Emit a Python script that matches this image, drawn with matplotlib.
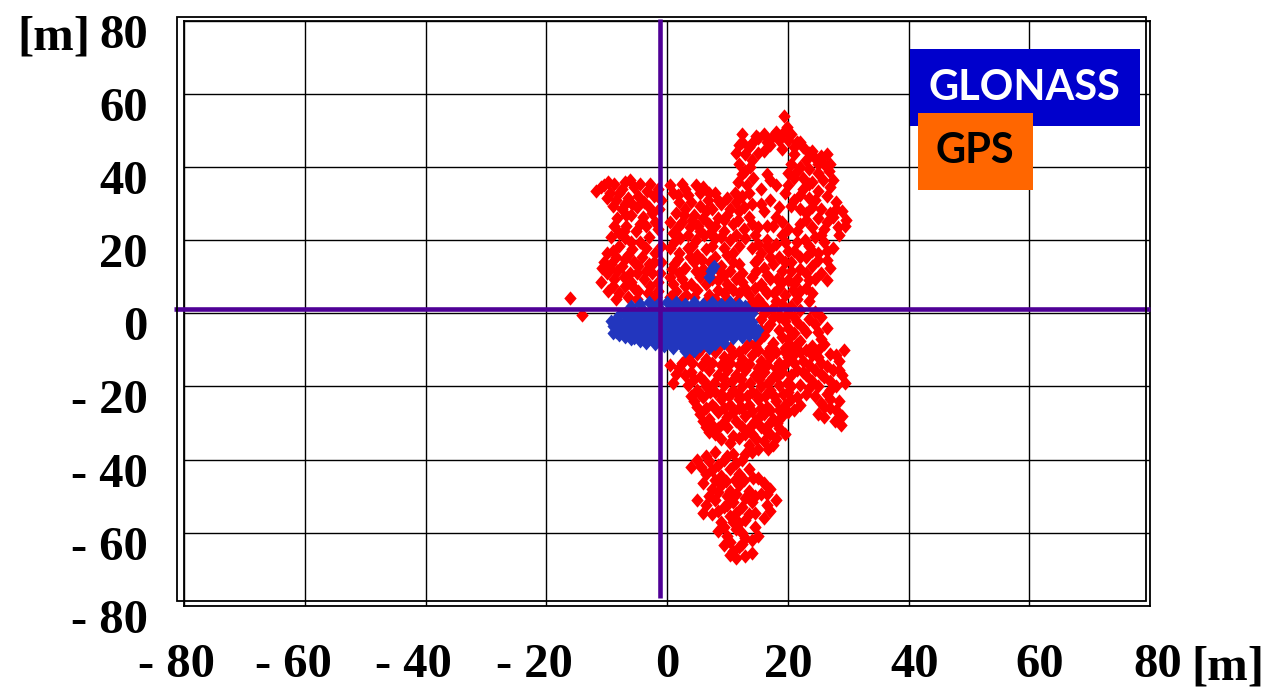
import matplotlib
matplotlib.use('Agg')
import matplotlib.pyplot as plt
from matplotlib.patches import Rectangle
from matplotlib.transforms import ScaledTranslation

# ---------------- data ----------------
tick_values = [-80, -60, -40, -20, 0, 20, 40, 60, 80]
tick_labels = ['- 80', '- 60', '- 40', '- 20', '0', '20', '40', '60', '80']
unit_label = '[m]'
legend_labels = ['GLONASS', 'GPS']

ref_x = -1.1   # vertical reference line
ref_y = 1.25   # horizontal reference line

gps_xy = [
    # upper-left cluster
    (-11.8, 33.5), (-10.5, 35), (-9.5, 33), (-8.8, 35.5), (-7.5, 34), (-6.2, 36.5), (-5.5, 34.5),
    (-4.8, 32), (-6.5, 31.5), (-8.5, 31), (-10, 31.5), (-3.3, 33.5), (-2.2, 32), (-1.5, 34), (-3.8, 30.5),
    (-7.5, 28.5), (-6, 27), (-8.2, 26), (-5, 29), (-4, 26.5), (-6.8, 24), (-5.2, 22.5), (-3.5, 24),
    (-8, 22), (-9.3, 21), (-7, 20.5), (-3, 21), (-2.5, 27.5), (-4.5, 19.5), (-1.5, 23), (-9, 17),
    (-10.5, 14), (-9.5, 12), (-8.5, 15.5), (-7.5, 13), (-6.5, 16), (-5.5, 14), (-4.2, 15.5), (-3, 13.5),
    (-2, 16.5), (-8.8, 9.5), (-7.2, 10), (-6, 8.5), (-5, 11), (-3.8, 9.5), (-2.5, 11), (-1.5, 8.5),
    (-9.8, 6), (-8, 5.5), (-6.5, 4.5), (-4.8, 6), (-3.2, 5.5), (-1.8, 4.5), (-7, 7.5), (-10, 11),
    (-16, 4.2), (-14, -0.5),
    (-11, 34.5), (-9.8, 36), (-8, 33), (-7, 36), (-4.5, 35.5), (-2.8, 35.5), (-9, 29.5), (-7, 30),
    (-5.8, 30), (-3, 29), (-6.8, 27), (-8.8, 24), (-7.2, 22.5), (-4.5, 24.5), (-2, 25), (-6, 19.5),
    (-3.5, 18), (-5.8, 17.5), (-8, 18.5), (-10, 16.5), (-9.2, 13.5), (-7, 15), (-4.8, 13), (-2.2, 14),
    (-8.2, 11.5), (-6.2, 11), (-3.5, 11.5), (-1.2, 11), (-9, 7.5), (-5.5, 7), (-2.8, 7.5), (-1.5, 6.2),
    (-8.5, 4), (-5, 4), (-11, 8.5), (-10.8, 12.5), (-1, 18.5), (-1, 14), (-1.3, 28.5), (-1, 31),
    # upper-middle
    (1, 33), (2.5, 35.5), (3.5, 32.5), (4.8, 35), (5.5, 33), (2, 30.5), (6.8, 31), (8, 33), (7.5, 28.5),
    (9, 30), (1.5, 27.5), (3, 28.5), (4.5, 27), (6, 26), (2.5, 25), (3.8, 23.5), (5.2, 24), (7, 24.5),
    (8.5, 26), (10, 27), (11, 24.5), (9.5, 22.5), (1, 22), (2.2, 20.5), (6.2, 21.5), (8, 20.5), (4.8, 20),
    (10.5, 20), (0.5, 18), (2, 16.5), (3.5, 18), (5, 16), (6.5, 17.5), (8, 15.5), (9.5, 18), (11, 16.5),
    (1.2, 13.5), (3, 12.5), (4.5, 14), (6, 12), (9, 13), (10.5, 11.5), (12, 13.5), (0.5, 10), (2.5, 9.5),
    (4, 8), (5.5, 10), (8.5, 9), (10, 8), (11.5, 9.5), (1.5, 6), (3.2, 5), (5, 6.5), (7, 5), (8.5, 6.5),
    (10, 4), (12, 5.5), (11.5, 3), (13, 7), (6.5, 3.5),
    (0.5, 35), (1.8, 32.5), (3, 34), (4, 30.5), (6, 34.5), (7, 33), (5.5, 29.5), (8.5, 31), (10, 31.5),
    (2.8, 27), (4.2, 25.5), (6.5, 28), (8, 24), (9.5, 25.5), (10.5, 28.5), (0.5, 25), (1.8, 23.5),
    (3.5, 21.5), (5.5, 22.5), (7.2, 22), (9, 21), (11.5, 21.5), (1.2, 19.5), (4.2, 18.5), (7.5, 18.5),
    (10, 16), (12, 18.5), (1.8, 15), (3.8, 15.5), (5.8, 14.5), (7.2, 14), (8.5, 12), (11, 14), (0.8, 12),
    (2, 11), (4.8, 11.5), (7, 11), (9.5, 10.5), (12.5, 11), (1, 8), (3, 7.5), (6.5, 8), (7.5, 9.5),
    (11, 6.5), (12.5, 8.5), (2.5, 4), (4.5, 4.5), (8, 4), (9.5, 5.5), (0.5, 4.5),
    # right arm column
    (11.5, 44), (12.5, 47), (13.5, 45.5), (12, 41), (13, 39), (14, 42), (11.8, 36), (13.2, 35),
    (12.5, 32), (14, 30), (12, 28), (13.5, 26.5), (12.8, 23), (14.5, 21.5), (11.5, 30.5), (14.2, 37),
    (12, 46), (13, 43.5), (12.5, 38), (13.8, 40), (11.3, 33), (13.5, 33), (12.8, 29), (11.8, 25.5),
    (14, 24.5), (13, 20.5), (12.5, 49), (14, 46.5),
    # top ridge
    (15, 48), (16.5, 47), (17.5, 48.5), (18.5, 47.5), (19.4, 54), (19.8, 51), (20.5, 49), (21.5, 47),
    (22.5, 45.5), (21, 43.5), (23.5, 44), (24.5, 42.5), (25.5, 43), (26, 41), (25, 38.5), (26.8, 39),
    (27.5, 36.5), (24, 36), (22, 40), (20.5, 41), (16, 44.5), (15, 44), (14.8, 48.5), (16.5, 38), (18, 35),
    (16, 49), (17, 46), (18, 49.5), (19, 49), (19, 45), (20, 47.5), (21, 45.5), (22, 47), (23, 42),
    (24, 44.5), (25, 41), (26.5, 43.5), (27, 41), (23.5, 39.5), (25.8, 36.5), (27, 34.5), (22.5, 37),
    (20, 38.5), (21.5, 39),
    # right part
    (21, 37), (22.5, 34), (21, 31), (23.5, 31.5), (22, 28.5), (24, 29), (26.5, 32), (28, 30.5), (29, 28),
    (27.5, 26.5), (29.7, 25.5), (28.3, 23.5), (26, 23), (27, 27.5), (25, 26), (23, 25.5), (21.5, 22.5),
    (22.8, 20), (24.5, 21), (26, 19.5), (27.5, 18), (25, 16.5), (23, 15.5), (21, 17), (24, 13), (22, 12),
    (25.5, 11), (21.5, 9.5), (23.5, 9), (20.5, 14), (26.5, 14.5),
    (20, 35), (23.5, 35.5), (25, 33.5), (22, 32.5), (24.5, 31), (20.5, 29.5), (23, 27.5), (25.5, 28.5),
    (28, 28.5), (26.5, 25), (24, 23.5), (22, 24.5), (28.5, 21.5), (29.5, 24), (25.5, 21.5), (23.5, 18.5),
    (21.5, 19.5), (26.5, 17), (24, 17), (22, 15.5), (20.5, 11.5), (23, 11), (25, 14.5), (24.5, 9.5),
    (27, 12.5), (26.5, 9),
    (15.5, 34), (17, 31), (18.5, 29), (16, 28), (19.5, 33), (15, 23.5), (17.5, 24), (19, 21.5), (16.5, 20),
    (18, 26.5), (17, 36.5), (15.5, 30), (19, 25), (20, 23), (16.5, 24),
    (14, 18), (15.5, 16.5), (17, 17.5), (18.5, 15.5), (20, 17), (14.5, 14), (16, 12.5), (17.5, 13.5),
    (19, 11.5), (20, 9), (14, 10), (15.5, 8), (17, 9.5), (18.5, 7), (13.5, 5), (15, 4), (16.5, 5.5),
    (18, 3.5), (19.5, 5), (20.5, 2), (14.5, 1.5), (16.5, 1), (22, 6), (23.5, 3.5), (22, 1), (24.5, 0.5),
    (21, -1),
    (15, 19), (16.5, 18.5), (18, 19), (19.5, 19.5), (15, 15), (17, 15.5), (19.5, 14), (14.8, 11.5),
    (16.5, 10.5), (18.2, 9.5), (14.5, 7), (16, 6.8), (17.8, 5.5), (19, 8.5), (20.8, 6.5), (14, 3),
    (15.8, 2.5), (17.5, 1.5), (19, 2.5), (20, 0), (21.5, 4), (23, 7), (24, 5.5), (21, 8), (18.5, -0.5),
    # right of the GLONASS cloud
    (15.5, -1.5), (17, -3), (18.5, -1), (20, -4), (21.5, -2.5), (23, -5), (24.5, -3), (16, -6), (17.5, -8),
    (19, -6.5), (20.5, -9), (22, -7.5), (24, -9), (25.5, -7), (14.5, -9), (18, -10.5), (26.5, -4),
    (16, 0), (17.5, -1), (19.5, -2), (21, -5.5), (22.5, -4), (23.5, -1.5), (25, -5), (16.5, -4),
    (18.5, -4.5), (15, -7.5), (20, -7), (21.5, -8.5), (23, -10), (17, -9.5), (19.5, -9.5), (25, -10),
    (26, -8.5), (15.5, -4.5), (13.5, -8), (25.5, -1),
    # lower dense part
    (3.5, -12), (5, -11), (6.5, -12.5), (8, -10.5), (9.5, -12), (11, -11), (12.5, -12.5), (14, -11.5),
    (15.5, -13), (17, -12), (18.5, -13.5), (20, -12), (7, -9.5), (10.5, -9.5), (13, -9.5), (0.5, -14),
    (1.5, -16.5), (2.5, -13.5),
    (4, -10), (5.8, -9.5), (8.8, -9), (12, -10.5), (15, -10), (16.5, -10.8), (19.5, -10.5), (4.2, -13.5),
    (5.8, -14), (7.5, -13.5), (9, -14), (10.5, -13.5), (12, -14.2), (13.5, -13.8), (15, -15), (16.5, -14),
    (18, -15), (19.5, -13.8), (2, -15), (3, -17), (1, -19),
    (4, -16), (5.5, -17.5), (7, -15.5), (8.5, -17), (10, -15.5), (11.5, -17), (13, -15.5), (14.5, -17),
    (16, -16), (17.5, -17.5), (19, -16), (20.5, -17), (3.5, -19.5), (5, -21), (6.5, -20), (8, -21.5),
    (9.5, -19.5), (11, -21), (12.5, -20), (14, -21.5), (15.5, -20), (17, -21), (18.5, -19.5), (20, -21.5),
    (4.5, -18), (6.2, -18.5), (7.8, -19), (9.2, -17.8), (10.8, -18.5), (12.2, -18), (13.8, -19),
    (15.2, -18), (16.8, -19), (18.2, -17.5), (19.8, -19), (4, -22.5), (5.8, -22.5), (7.2, -21.5), (9, -22),
    (10.2, -22.5), (11.8, -22), (13.2, -22.5), (14.8, -22), (16.2, -22.5), (17.8, -22.5), (19.2, -22.2),
    (4.5, -24), (6, -23), (7.5, -25), (9, -23.5), (10.5, -25), (12, -23.5), (13.5, -25), (15, -23.5),
    (16.5, -25.5), (18, -24), (19.5, -25), (5.5, -27.5), (7, -29), (8.5, -27), (10, -28.5), (13, -28),
    (14.5, -29.5), (16, -27.5), (17.5, -29), (19, -28), (6.5, -31), (8, -33),
    (5, -25.5), (6.5, -26), (8, -26), (9.5, -26), (11, -27), (12.5, -26), (14, -26.8), (15.5, -26),
    (17, -26.5), (18.5, -26.5), (20, -27), (6, -29.5), (9.2, -30), (13.7, -31), (15.2, -28.5),
    (16.8, -30.5), (18.2, -30), (11.5, -29.5), (12, -25.8),
    (7.5, -30.5), (12.5, -31), (14, -33), (15.5, -31), (17, -33), (18.5, -31.5), (16, -35), (13.5, -36),
    (15, -37), (17.5, -36), (9, -34.5), (12, -34),
    (7, -32.5), (8.5, -31.5), (10, -31), (11, -33.5), (13, -33), (14.8, -34.5), (16.5, -32.5), (18, -34),
    (16.8, -37), (14, -38), (19.5, -33), (10.5, -35.5),
    # lower right spur
    (21, -11), (22.5, -13), (24, -11.5), (25.5, -13.5), (27, -11), (28.5, -13), (29.3, -10), (21.5, -15.5),
    (23, -17), (24.5, -15.5), (26, -17.5), (27.5, -15.5), (29, -17), (22, -19.5), (25, -20), (26.5, -22),
    (28, -20), (25.5, -24.5), (27, -26), (28.5, -24), (26, -28.5), (27.8, -29.5), (29, -28), (20.5, -20),
    (21.5, -23), (23, -22),
    (22, -10.5), (23.5, -14), (25, -12), (26.5, -14.5), (28, -11.5), (21, -13.5), (22.5, -16), (24, -18.5),
    (25.5, -16.5), (27, -18.5), (28.5, -15.5), (29.5, -19), (27, -21), (23.5, -20.5), (24.5, -22.5),
    (26, -25.5), (28, -26.5), (27, -23.5), (25, -27.5), (28.8, -30.5), (20.5, -23.5), (22, -25), (21, -26.5),
    # tail
    (4, -42), (5.6, -42), (6.5, -39), (8, -38), (9.5, -40), (11, -38.5), (12.5, -40), (7.5, -43),
    (9, -44.5), (10.5, -42.5), (12, -44), (13.5, -42.5), (6, -46.5), (7.5, -48), (9, -47), (10.5, -48.5),
    (12, -47), (13.5, -48.5), (15, -45), (16, -46.5), (15.5, -49.5), (17, -48), (18, -51), (16.5, -52.5),
    (5, -51), (6.5, -52.5), (8, -51), (9.5, -53), (11, -51.5), (12.5, -53), (14, -51.5), (7.5, -55),
    (9, -57), (10.5, -55.5), (12, -57.5), (13.5, -55), (8.5, -59.5), (10, -61), (11.5, -59), (13, -61.5),
    (14.5, -58.5), (9.5, -63.5), (11, -65), (12.5, -63), (14, -65.5), (13, -66.5), (10.5, -66),
    (5, -40), (7, -40.5), (8.5, -41.5), (10, -39), (11.5, -41), (13, -38.5), (6.5, -44), (8, -45.5),
    (9.8, -46), (11.2, -45.5), (12.8, -45.5), (14.2, -45), (7, -50), (8.5, -49), (10, -50), (11.5, -49.5),
    (13, -50.5), (14.5, -50), (16.5, -49.5), (6, -54.5), (8.5, -54), (10, -52.5), (11.5, -54.5),
    (13, -56.5), (14.5, -54.5), (9.5, -58.5), (11, -57), (12.5, -60), (14, -62), (10.5, -62.5), (12, -64),
    (11.5, -67), (15, -61), (16, -56), (17, -54),
]

glonass_xy = [
    (-4.5, 2.5), (-3, 3), (-1.5, 2.5), (0, 3), (1.5, 3), (3, 2.5), (4.5, 3), (6, 2.5), (7.5, 3), (9, 2.5),
    (10.5, 3), (12, 2.5), (13, 2),
    (-6, 2), (-2, 1.8), (1, 1.8), (4, 1.8), (7, 1.8), (10, 1.8), (12.8, 1.2),
    (-7, 0), (-5.5, 0.5), (-4, 1), (-2.5, 0.5), (-1, 1), (0.5, 0.5), (2, 1), (3.5, 0.5), (5, 1), (6.5, 0.5),
    (8, 1), (9.5, 0.5), (11, 1), (12.5, 0.5), (14, 0),
    (-8, -0.5), (-6.2, -1), (-4.8, -0.5), (-3.2, -0.5), (-1.8, -0.3), (-0.2, -0.5), (1.2, -0.5),
    (2.8, -0.5), (4.2, -0.5), (5.8, -0.5), (7.2, -0.5), (8.8, -0.5), (10.2, -0.5), (11.8, -0.5), (13.2, -0.8),
    (-8.5, -1.5), (-7, -2), (-5.5, -1.5), (-4, -2), (-2.5, -1.5), (-1, -2), (0.5, -1.5), (2, -2),
    (3.5, -1.5), (5, -2), (6.5, -1.5), (8, -2), (9.5, -1.5), (11, -2), (12.5, -1.5), (14, -2.5),
    (-9.2, -2), (-8.2, -2.8), (-6.8, -3), (-5.2, -2.8), (-3.8, -3), (-2.2, -2.8), (-0.8, -3), (0.8, -2.8),
    (2.2, -3), (3.8, -2.8), (5.2, -3), (6.8, -2.8), (8.2, -3), (9.8, -2.8), (11.2, -3), (12.8, -3),
    (14.2, -3.5),
    (-9, -3.5), (-7.5, -4), (-6, -3.5), (-4.5, -4), (-3, -3.5), (-1.5, -4), (0, -3.5), (1.5, -4), (3, -3.5),
    (4.5, -4), (6, -3.5), (7.5, -4), (9, -3.5), (10.5, -4), (12, -3.5), (13.5, -4.5), (15, -4.5),
    (-9, -5.5), (-8.5, -5), (-7, -4.8), (-5.5, -5), (-4, -4.8), (-2.5, -5), (-1, -4.8), (0.5, -5), (2, -4.8),
    (3.5, -5), (5, -4.8), (6.5, -5), (8, -4.8), (9.5, -5), (11, -4.8), (12.5, -5), (13.5, -6),
    (-8, -6), (-6.5, -5.5), (-5, -6), (-3.5, -5.5), (-2, -6), (-0.5, -5.5), (1, -6), (2.5, -5.5), (4, -6),
    (5.5, -5.5), (7, -6), (8.5, -5.5), (10, -6), (11.5, -5.5), (14.5, -6),
    (-7, -6.5), (-5.5, -6.8), (-4, -6.5), (-2.5, -6.8), (-1, -6.5), (0.5, -6.8), (2, -6.5), (3.5, -6.8),
    (5, -6.5), (6.5, -6.8), (8, -6.5), (9.5, -6.5), (11, -6.8), (12.5, -6.5),
    (-6, -7), (-4.5, -7.5), (-3, -7), (-1.5, -7.5), (0, -7), (1.5, -7.5), (3, -7), (4.5, -7.5), (6, -7),
    (7.5, -7.5), (9, -7),
    (-3.5, -8.2), (-2, -8.5), (0.5, -8.3), (2, -8.2), (3.5, -8.3), (5, -8.2), (6.5, -8.3), (8, -8.5),
    (9.5, -8.2),
    (-0.5, -9), (1, -9.5), (2.5, -9), (4, -9.5), (5.5, -9), (7, -9.5), (3, -10.3), (4.5, -10.2),
    (7, 10), (7.3, 11.5), (7.8, 13), (7.5, 12),
]

# ---------------- figure ----------------
W, H = 1272, 687
fig = plt.figure(figsize=(W / 100, H / 100), dpi=100)


def fx(px):
    return px / W


def fy(py):
    return 1 - py / H


ax_l, ax_r, ax_t, ax_b = 184, 1150, 21, 605.7
ax = fig.add_axes([fx(ax_l), fy(ax_b), (ax_r - ax_l) / W, (ax_b - ax_t) / H])
ax.set_xlim(-80, 80)
ax.set_ylim(-80, 80)
ax.set_xticks(tick_values)
ax.set_yticks(tick_values)
ax.set_xticklabels(tick_labels)
ax.set_yticklabels(tick_labels)
ax.grid(True, color='black', lw=1.0)
ax.set_axisbelow(True)
for sp in ax.spines.values():
    sp.set_linewidth(1.3)
    sp.set_color('black')

serif = {'family': 'Liberation Serif', 'weight': 'bold', 'size': 35}
ax.tick_params(length=0)
ax.tick_params(axis='x', pad=27)
ax.tick_params(axis='y', pad=26)
for lab in ax.get_xticklabels() + ax.get_yticklabels():
    lab.set_fontfamily('Liberation Serif')
    lab.set_fontweight('bold')
    lab.set_fontsize(35)

x_shift_px = [-7, -11, -12, -12, 0, 1, 6, 10, 8]
for lab, dx in zip(ax.get_xticklabels(), x_shift_px):
    lab.set_transform(lab.get_transform() + ScaledTranslation(dx / 100, 0, fig.dpi_scale_trans))
for lab in ax.get_yticklabels():
    lab.set_transform(lab.get_transform() + ScaledTranslation(0, -10 / 100, fig.dpi_scale_trans))

# outer offset frame
fig.patches.append(Rectangle((fx(177), fy(601)), (1146 - 177) / W, (601 - 17) / H,
                             transform=fig.transFigure, fill=False, ec='black', lw=1.3, zorder=0))

diamond = [(0, 1), (0.87, 0), (0, -1), (-0.87, 0), (0, 1)]
gx, gy = zip(*gps_xy)
ax.scatter(gx, gy, marker=diamond, s=105, c='#FF0000', linewidths=0, zorder=3)
bx, by = zip(*glonass_xy)
ax.scatter(bx, by, marker=diamond, s=100, c='#2236BE', linewidths=0, zorder=4)

ax.plot([-81.7, 80], [ref_y, ref_y], color='#4F0096', lw=3.3, clip_on=False, zorder=5,
        solid_capstyle='butt')
ax.plot([ref_x, ref_x], [-78, 80.5], color='#4F0096', lw=3.3, clip_on=False, zorder=5,
        solid_capstyle='butt')

# unit labels
fig.text(fx(17), fy(49), unit_label, ha='left', va='baseline', **serif)
fig.text(fx(1191), fy(679), unit_label, ha='left', va='baseline', **serif)

# legend boxes
fig.patches.append(Rectangle((fx(910), fy(126)), (1140 - 910) / W, (126 - 49) / H,
                             transform=fig.transFigure, fc='#0000CC', ec='none', zorder=6))
fig.patches.append(Rectangle((fx(918), fy(190)), (1033 - 918) / W, (190 - 113) / H,
                             transform=fig.transFigure, fc='#FF6600', ec='none', zorder=7))
fig.text(fx(1024), fy(88), legend_labels[0], ha='center', va='center', color='white',
         family='Lato', weight='bold', size=30, zorder=8)
fig.text(fx(975), fy(151), legend_labels[1], ha='center', va='center', color='black',
         family='Lato', weight='bold', size=30, zorder=8)

fig.savefig('out.png', dpi=100)
